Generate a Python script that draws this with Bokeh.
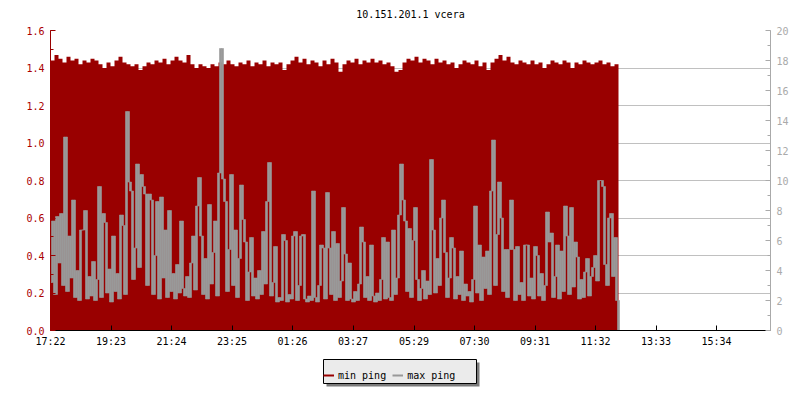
from bokeh.plotting import figure
from bokeh.layouts import column
from bokeh.models import (Range1d, LinearAxis, SingleIntervalTicker, FixedTicker,
                          PrintfTickFormatter, Legend, LegendItem)
from bokeh.core.properties import value
from bokeh.embed import file_html
from bokeh.resources import INLINE

# ---------------- data ----------------
title_text = "10.151.201.1 vcera"
tick_labels = ["17:22", "19:23", "21:24", "23:25", "01:26", "03:27",
               "05:29", "07:30", "09:31", "11:32", "13:33", "15:34"]
series_names = ["min ping", "max ping"]

min_step_minutes = 8   # sampling interval of min ping
max_step_minutes = 4   # sampling interval of max ping

# min ping (left axis)
min_ping = [
    1.44, 1.47, 1.45, 1.43, 1.46, 1.44, 1.45, 1.42, 1.44, 1.43, 1.45, 1.44, 1.42, 1.40, 1.43, 1.41, 1.44, 1.46, 1.43, 1.42,
    1.41, 1.42, 1.39, 1.41, 1.43, 1.42, 1.44, 1.43, 1.45, 1.42, 1.44, 1.46, 1.44, 1.43, 1.47, 1.42, 1.40, 1.42, 1.41, 1.40,
    1.42, 1.41, 1.43, 1.42, 1.44, 1.42, 1.41, 1.43, 1.42, 1.44, 1.41, 1.43, 1.42, 1.44, 1.41, 1.43, 1.42, 1.43, 1.39, 1.42,
    1.44, 1.46, 1.43, 1.45, 1.42, 1.44, 1.43, 1.41, 1.44, 1.42, 1.45, 1.43, 1.38, 1.42, 1.44, 1.43, 1.45, 1.42, 1.44, 1.43,
    1.45, 1.43, 1.44, 1.42, 1.43, 1.41, 1.38, 1.39, 1.43, 1.45, 1.44, 1.46, 1.43, 1.45, 1.44, 1.42, 1.45, 1.43, 1.44, 1.42,
    1.43, 1.40, 1.42, 1.44, 1.43, 1.42, 1.44, 1.41, 1.43, 1.39, 1.43, 1.45, 1.47, 1.44, 1.46, 1.43, 1.42, 1.44, 1.43, 1.42,
    1.44, 1.42, 1.43, 1.40, 1.42, 1.44, 1.43, 1.42, 1.44, 1.43, 1.40, 1.43, 1.42, 1.44, 1.43, 1.42, 1.43, 1.44, 1.42, 1.43,
    1.41, 1.42,
]

# max ping (right axis); last value: data stops
max_ping = [
    3.2, 7.3, 2.4, 7.6, 4.5, 7.8, 3.0, 12.9, 2.6, 6.3,
    3.5, 8.7, 2.2, 4.0, 2.0, 6.7, 6.7, 8.0, 2.1, 3.6,
    2.3, 4.6, 2.0, 3.4, 9.6, 2.2, 7.8, 7.2, 2.5, 4.1,
    1.9, 6.3, 2.6, 3.8, 2.1, 7.7, 7.0, 2.4, 14.6, 9.9,
    9.3, 3.4, 5.5, 11.1, 4.2, 10.4, 9.6, 9.1, 3.0, 9.1,
    8.7, 2.4, 5.0, 8.6, 2.1, 8.9, 3.5, 6.7, 2.2, 8.0,
    2.6, 3.8, 2.1, 4.4, 2.5, 7.3, 2.8, 2.3, 3.6, 2.2,
    4.5, 6.3, 2.7, 8.3, 10.2, 6.3, 2.4, 4.8, 2.1, 8.4,
    3.1, 5.2, 7.3, 2.3, 10.5, 18.8, 10.1, 8.6, 2.6, 5.4,
    10.4, 3.0, 6.7, 2.2, 4.8, 9.7, 7.4, 5.9, 2.0, 3.9,
    6.2, 2.3, 3.5, 2.1, 4.0, 2.4, 6.6, 3.1, 8.6, 11.2,
    2.3, 3.2, 5.6, 1.9, 2.2, 2.0, 6.4, 6.0, 1.9, 2.4,
    2.1, 6.3, 6.6, 2.0, 3.0, 6.3, 6.4, 2.1, 1.9, 2.3,
    2.0, 9.3, 2.2, 1.9, 3.0, 5.7, 5.5, 2.1, 9.2, 5.5,
    2.4, 6.6, 2.0, 5.8, 2.2, 3.3, 8.2, 5.1, 2.0, 4.5,
    2.1, 1.9, 2.6, 2.0, 3.1, 6.9, 5.9, 2.2, 3.6, 2.0,
    5.7, 2.3, 1.9, 2.5, 2.0, 3.4, 6.2, 2.1, 5.9, 2.2,
    2.0, 6.7, 2.4, 3.5, 7.7, 11.1, 8.7, 7.3, 2.6, 6.8,
    2.2, 6.0, 8.2, 3.4, 2.0, 2.8, 4.0, 2.1, 3.3, 2.4,
    11.4, 6.7, 2.5, 4.8, 3.0, 7.5, 8.7, 5.2, 2.2, 3.5,
    6.2, 5.5, 2.1, 3.6, 2.4, 5.3, 2.0, 3.1, 2.3, 2.6,
    1.9, 3.4, 8.3, 2.5, 5.7, 2.0, 4.9, 2.8, 5.3, 2.4,
    9.3, 12.7, 3.0, 6.4, 9.9, 7.5, 2.6, 5.4, 2.2, 5.4,
    8.7, 5.4, 2.0, 5.6, 2.4, 3.2, 2.0, 5.7, 5.7, 2.3,
    3.5, 2.1, 5.6, 5.0, 2.3, 3.8, 2.0, 3.0, 7.9, 5.9,
    6.5, 2.2, 3.6, 5.7, 2.1, 5.3, 2.6, 8.3, 6.3, 2.4,
    8.2, 2.9, 5.9, 4.9, 2.1, 3.4, 2.2, 3.9, 4.8, 2.3,
    3.6, 4.2, 5.0, 3.3, 10.0, 10.0, 9.6, 4.4, 3.0, 7.5,
    7.8, 3.6, 6.2, 2.0, 0.0,
]

# ---------------- derived ----------------
def minutes_from_start(lbl):
    h, m = map(int, lbl.split(":"))
    h0, m0 = map(int, tick_labels[0].split(":"))
    return ((h * 60 + m) - (h0 * 60 + m0)) % 1440

tick_pos = [minutes_from_start(l) for l in tick_labels]

min_x = [i * min_step_minutes for i in range(len(min_ping) + 1)]
min_y = min_ping + [min_ping[-1]]

# max ping drawn as a dense line: each sample joins the previous one vertically
max_x = [i * max_step_minutes for i in range(len(max_ping))]
prev = [max_ping[0]] + max_ping[:-1]
max_lo = [min(a, b) for a, b in zip(prev, max_ping)]
max_hi = [max(a, b) for a, b in zip(prev, max_ping)]

RED = "#990000"
GRAY = "#999999"
FONT = "DejaVu Sans Mono"

# page geometry (pixels)
FRAME_L, FRAME_R = 50, 770
PAGE_W = 798
TITLE_H = 22          # strip holding the title
TOP_GAP = 8           # chart border above the frame

def strip(height):
    f = figure(frame_width=FRAME_R - FRAME_L, frame_height=height, output_backend="svg",
               toolbar_location=None, x_range=Range1d(FRAME_L, FRAME_R),
               y_range=Range1d(0, height), min_border_left=FRAME_L,
               min_border_right=PAGE_W - FRAME_R, min_border_top=0, min_border_bottom=0,
               x_axis_location=None, y_axis_location=None)
    f.outline_line_color = None
    f.grid.visible = False
    f.background_fill_color = "white"
    f.border_fill_color = "white"
    return f

# ---------------- title strip ----------------
tf = strip(TITLE_H)
tf.text(x=[(FRAME_L + FRAME_R) / 2], y=[TITLE_H - 13.5], text=[title_text],
        text_align="center", text_baseline="middle", text_font=value(FONT),
        text_font_size="10px", text_color="black")

# ---------------- main chart ----------------
p = figure(frame_width=FRAME_R - FRAME_L, frame_height=300, output_backend="svg",
           toolbar_location=None, x_range=Range1d(0, 1440), y_range=Range1d(0, 1.6),
           min_border_left=FRAME_L, min_border_right=PAGE_W - FRAME_R,
           min_border_top=TOP_GAP, min_border_bottom=20)
p.extra_y_ranges = {"right": Range1d(0, 20)}
p.outline_line_color = None
p.background_fill_color = "white"
p.border_fill_color = "white"

# grids
p.xgrid.visible = False
p.ygrid.ticker = SingleIntervalTicker(interval=0.2)
p.ygrid.grid_line_color = "#c0c0c0"
p.ygrid.grid_line_width = 1

# left axis
ya = p.yaxis[0]
ya.ticker = SingleIntervalTicker(interval=0.2, num_minor_ticks=2)
ya.formatter = PrintfTickFormatter(format="%.1f")
ya.axis_line_color = RED
ya.major_tick_line_color = RED
ya.minor_tick_line_color = RED
ya.major_tick_in = 5
ya.major_tick_out = 0
ya.minor_tick_in = 3
ya.minor_tick_out = 0
ya.major_label_text_color = "#aa0000"
ya.major_label_text_font = FONT
ya.major_label_text_font_size = "10px"
ya.major_label_standoff = 6

# right axis
ra = LinearAxis(y_range_name="right",
                ticker=SingleIntervalTicker(interval=2, num_minor_ticks=2))
ra.axis_line_color = "#aaaaaa"
ra.major_tick_line_color = "#aaaaaa"
ra.minor_tick_line_color = "#aaaaaa"
ra.major_tick_in = 5
ra.major_tick_out = 0
ra.minor_tick_in = 3
ra.minor_tick_out = 0
ra.major_label_text_color = "#aaaaaa"
ra.major_label_text_font = FONT
ra.major_label_text_font_size = "10px"
ra.major_label_standoff = 6
p.add_layout(ra, "right")

# x axis
xa = p.xaxis[0]
xa.ticker = FixedTicker(ticks=tick_pos, minor_ticks=[])
xa.major_label_overrides = {t: l for t, l in zip(tick_pos, tick_labels)}
xa.axis_line_color = "black"
xa.major_tick_line_color = "black"
xa.major_tick_in = 5
xa.major_tick_out = 0
xa.minor_tick_line_color = None
xa.major_label_text_color = "black"
xa.major_label_text_font = FONT
xa.major_label_text_font_size = "10px"
xa.major_label_standoff = 5

# data
p.varea_step(x=min_x, y1=0, y2=min_y, step_mode="after", fill_color=RED, fill_alpha=1)
p.vbar(x=max_x, width=max_step_minutes, bottom=max_lo, top=max_hi, y_range_name="right",
       fill_color=GRAY, line_color=GRAY, line_width=0.6)

# ---------------- legend strip ----------------
LEG_H = 50
BOX_L, BOX_R, BOX_T, BOX_B = 323, 476, LEG_H - 9, LEG_H - 33   # page x, strip y (up)
SHADOW = 3

leg = strip(LEG_H)
leg.quad(left=[BOX_L + SHADOW], right=[BOX_R + SHADOW], top=[BOX_T - SHADOW],
         bottom=[BOX_B - SHADOW], fill_color="#7a7a7a", line_color=None)
leg.quad(left=[BOX_L], right=[BOX_R], top=[BOX_T], bottom=[BOX_B],
         fill_color="#ebebeb", line_color="black", line_width=1)

# legend-only line renderers (their single point lies below the visible strip)
r1 = leg.line(x=[FRAME_L], y=[-100], line_color=RED, line_width=2)
r2 = leg.line(x=[FRAME_L], y=[-100], line_color=GRAY, line_width=2)
legend = Legend(items=[LegendItem(label=series_names[0], renderers=[r1]),
                       LegendItem(label=series_names[1], renderers=[r2])],
                orientation="horizontal", location=(BOX_L - FRAME_L, BOX_B),
                glyph_width=11, glyph_height=16, label_standoff=4, spacing=6,
                padding=4, margin=0,
                label_text_font=FONT, label_text_font_size="10px", label_text_color="black",
                background_fill_alpha=0, border_line_color=None)
leg.add_layout(legend)

layout = column(tf, p, leg, spacing=0)
open("out.html", "w").write(file_html(layout, INLINE))
